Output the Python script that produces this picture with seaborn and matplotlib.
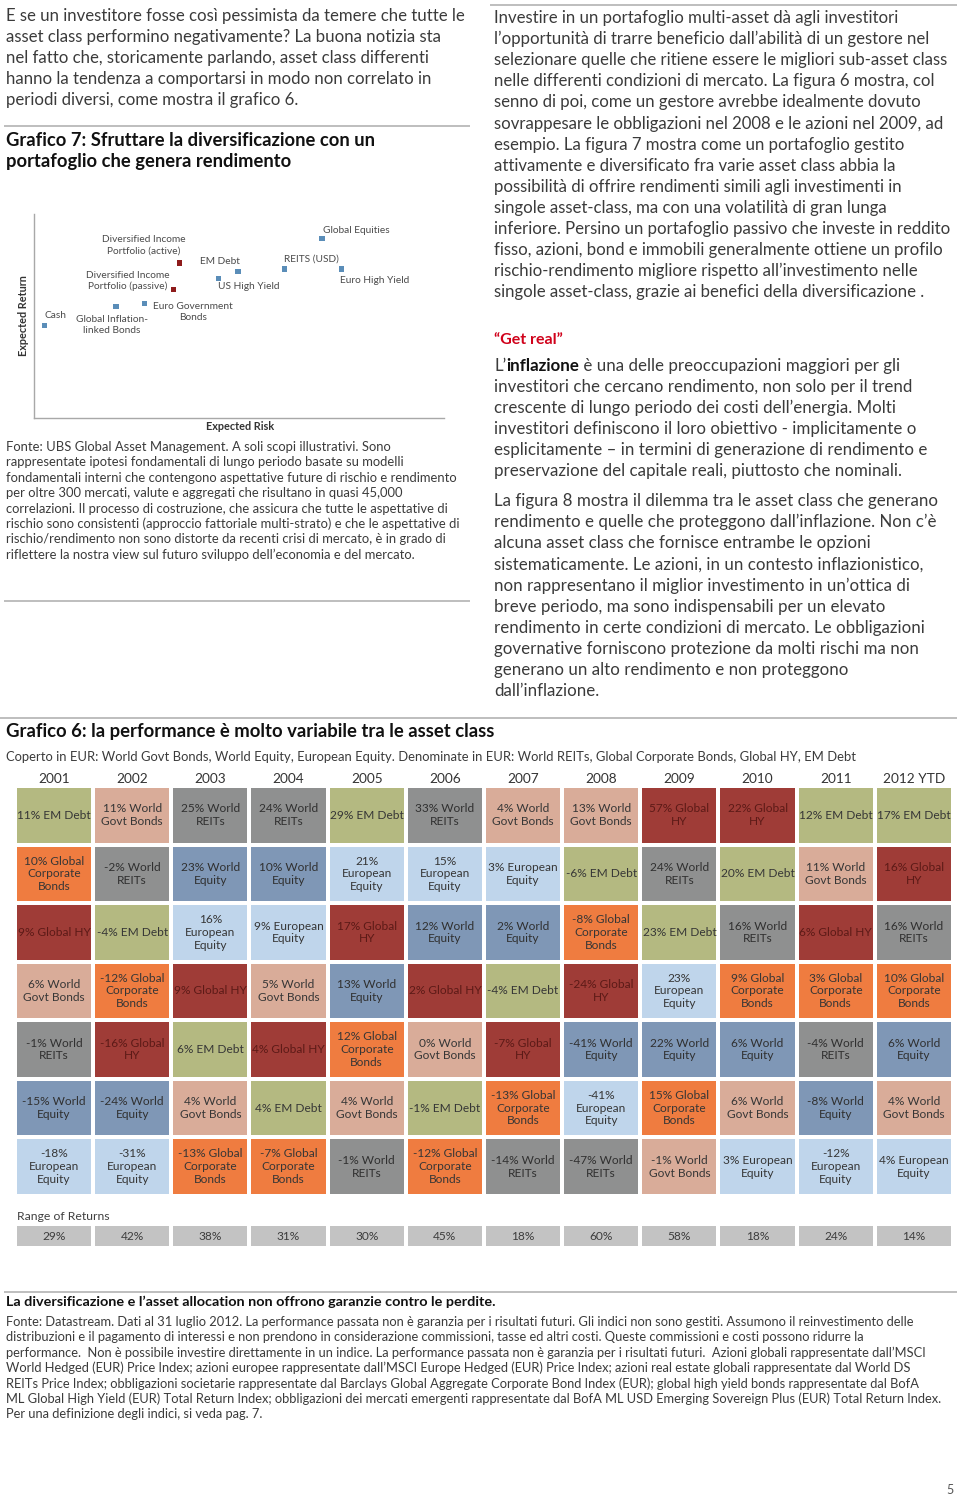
import matplotlib
matplotlib.use("Agg")
import numpy as np
import pandas as pd
import matplotlib.pyplot as plt
from matplotlib.colors import ListedColormap
from matplotlib import font_manager
import seaborn as sns

# ---------------- Grafico 7: expected risk / return (arbitrary units)
labels7 = ["Cash", "Global Inflation-\nlinked Bonds", "Euro Government\nBonds",
           "Diversified Income\nPortfolio (passive)", "Diversified Income\nPortfolio (active)",
           "US High Yield", "EM Debt", "REITS (USD)", "Global Equities", "Euro High Yield"]
risk7 = [0.5, 4.0, 5.4, 6.8, 7.1, 9.0, 9.95, 12.2, 14.05, 15.0]
return7 = [4.55, 5.45, 5.6, 6.3, 7.6, 6.85, 7.2, 7.3, 8.8, 7.3]
kind7 = ["asset", "asset", "asset", "portfolio", "portfolio",
         "asset", "asset", "asset", "asset", "asset"]

# ---------------- Grafico 6: ranked yearly returns (best at the top)
years = ["2001", "2002", "2003", "2004", "2005", "2006", "2007", "2008", "2009", "2010", "2011", "2012 YTD"]
ranked_returns = [
    [11, 10, 9, 6, -1, -15, -18],
    [11, -2, -4, -12, -16, -24, -31],
    [25, 23, 16, 9, 6, 4, -13],
    [24, 10, 9, 5, 4, 4, -7],
    [29, 21, 17, 13, 12, 4, -1],
    [33, 15, 12, 2, 0, -1, -12],
    [4, 3, 2, -4, -7, -13, -14],
    [13, -6, -8, -24, -41, -41, -47],
    [57, 24, 23, 23, 22, 15, -1],
    [22, 20, 16, 9, 6, 6, 3],
    [12, 11, 6, 3, -4, -8, -12],
    [17, 16, 16, 10, 6, 4, 4],
]
ranked_assets = [
    ["EM Debt", "Global Corporate Bonds", "Global HY", "World Govt Bonds", "World REITs", "World Equity", "European Equity"],
    ["World Govt Bonds", "World REITs", "EM Debt", "Global Corporate Bonds", "Global HY", "World Equity", "European Equity"],
    ["World REITs", "World Equity", "European Equity", "Global HY", "EM Debt", "World Govt Bonds", "Global Corporate Bonds"],
    ["World REITs", "World Equity", "European Equity", "World Govt Bonds", "Global HY", "EM Debt", "Global Corporate Bonds"],
    ["EM Debt", "European Equity", "Global HY", "World Equity", "Global Corporate Bonds", "World Govt Bonds", "World REITs"],
    ["World REITs", "European Equity", "World Equity", "Global HY", "World Govt Bonds", "EM Debt", "Global Corporate Bonds"],
    ["World Govt Bonds", "European Equity", "World Equity", "EM Debt", "Global HY", "Global Corporate Bonds", "World REITs"],
    ["World Govt Bonds", "EM Debt", "Global Corporate Bonds", "Global HY", "World Equity", "European Equity", "World REITs"],
    ["Global HY", "World REITs", "EM Debt", "European Equity", "World Equity", "Global Corporate Bonds", "World Govt Bonds"],
    ["Global HY", "EM Debt", "World REITs", "Global Corporate Bonds", "World Equity", "World Govt Bonds", "European Equity"],
    ["EM Debt", "World Govt Bonds", "Global HY", "Global Corporate Bonds", "World REITs", "World Equity", "European Equity"],
    ["EM Debt", "Global HY", "World REITs", "Global Corporate Bonds", "World Equity", "World Govt Bonds", "European Equity"],
]
range_of_returns = [29, 42, 38, 31, 30, 45, 18, 60, 58, 18, 24, 14]

asset_names = ["EM Debt", "World Govt Bonds", "World REITs", "World Equity",
               "European Equity", "Global Corporate Bonds", "Global HY"]
asset_colors = ["#b4b981", "#d9ac99", "#8f9090", "#7f97b6", "#bfd5eb", "#ef7c40", "#9f3c37"]
asset_text = ["#363636", "#363636", "#303030", "#303030", "#363636", "#363636", "#5c1a17"]

# ---------------- page text
left_intro = [
    "E se un investitore fosse così pessimista da temere che tutte le",
    "asset class performino negativamente? La buona notizia sta",
    "nel fatto che, storicamente parlando, asset class differenti",
    "hanno la tendenza a comportarsi in modo non correlato in",
    "periodi diversi, come mostra il grafico 6.",
]
title7 = ["Grafico 7: Sfruttare la diversificazione con un", "portafoglio che genera rendimento"]
source7 = [
    "Fonte: UBS Global Asset Management. A soli scopi illustrativi. Sono",
    "rappresentate ipotesi fondamentali di lungo periodo basate su modelli",
    "fondamentali interni che contengono aspettative future di rischio e rendimento",
    "per oltre 300 mercati, valute e aggregati che risultano in quasi 45,000",
    "correlazioni. Il processo di costruzione, che assicura che tutte le aspettative di",
    "rischio sono consistenti (approccio fattoriale multi-strato) e che le aspettative di",
    "rischio/rendimento non sono distorte da recenti crisi di mercato, è in grado di",
    "riflettere la nostra view sul futuro sviluppo dell’economia e del mercato.",
]
right_intro = [
    "Investire in un portafoglio multi-asset dà agli investitori",
    "l’opportunità di trarre beneficio dall’abilità di un gestore nel",
    "selezionare quelle che ritiene essere le migliori sub-asset class",
    "nelle differenti condizioni di mercato. La figura 6 mostra, col",
    "senno di poi, come un gestore avrebbe idealmente dovuto",
    "sovrappesare le obbligazioni nel 2008 e le azioni nel 2009, ad",
    "esempio. La figura 7 mostra come un portafoglio gestito",
    "attivamente e diversificato fra varie asset class abbia la",
    "possibilità di offrire rendimenti simili agli investimenti in",
    "singole asset-class, ma con una volatilità di gran lunga",
    "inferiore. Persino un portafoglio passivo che investe in reddito",
    "fisso, azioni, bond e immobili generalmente ottiene un profilo",
    "rischio-rendimento migliore rispetto all’investimento nelle",
    "singole asset-class, grazie ai benefici della diversificazione .",
]
real_para1 = [
    "investitori che cercano rendimento, non solo per il trend",
    "crescente di lungo periodo dei costi dell’energia. Molti",
    "investitori definiscono il loro obiettivo - implicitamente o",
    "esplicitamente – in termini di generazione di rendimento e",
    "preservazione del capitale reali, piuttosto che nominali.",
]
real_para2 = [
    "La figura 8 mostra il dilemma tra le asset class che generano",
    "rendimento e quelle che proteggono dall’inflazione. Non c’è",
    "alcuna asset class che fornisce entrambe le opzioni",
    "sistematicamente. Le azioni, in un contesto inflazionistico,",
    "non rappresentano il miglior investimento in un’ottica di",
    "breve periodo, ma sono indispensabili per un elevato",
    "rendimento in certe condizioni di mercato. Le obbligazioni",
    "governative forniscono protezione da molti rischi ma non",
    "generano un alto rendimento e non proteggono",
    "dall’inflazione.",
]
source6 = [
    "Fonte: Datastream. Dati al 31 luglio 2012. La performance passata non è garanzia per i risultati futuri. Gli indici non sono gestiti. Assumono il reinvestimento delle",
    "distribuzioni e il pagamento di interessi e non prendono in considerazione commissioni, tasse ed altri costi. Queste commissioni e costi possono ridurre la",
    "performance.  Non è possibile investire direttamente in un indice. La performance passata non è garanzia per i risultati futuri.  Azioni globali rappresentate dall’MSCI",
    "World Hedged (EUR) Price Index; azioni europee rappresentate dall’MSCI Europe Hedged (EUR) Price Index; azioni real estate globali rappresentate dal World DS",
    "REITs Price Index; obbligazioni societarie rappresentate dal Barclays Global Aggregate Corporate Bond Index (EUR); global high yield bonds rappresentate dal BofA",
    "ML Global High Yield (EUR) Total Return Index; obbligazioni dei mercati emergenti rappresentate dal BofA ML USD Emerging Sovereign Plus (EUR) Total Return Index.",
    "Per una definizione degli indici, si veda pag. 7.",
]

sns.set_theme(style="white")
plt.rcParams["font.family"] = ["Lato", "DejaVu Sans"]
installed = {f.name for f in font_manager.fontManager.ttflist}
NARROW = "Liberation Sans Narrow" if "Liberation Sans Narrow" in installed else "Lato"
BODY = "#3b3b3b"

fig = plt.figure(figsize=(9.6, 14.99), dpi=100)
page = fig.add_axes([0, 0, 1, 1])
page.set_xlim(0, 960)
page.set_ylim(1499, 0)
page.axis("off")
renderer = fig.canvas.get_renderer()


def text_block(x, y0, step, lines, width, size=11, **kw):
    # draw lines, then rescale the font so the widest line matches the page
    arts = [page.text(x, y0 + i * step, ln, va="center", ha="left", fontsize=size, **kw)
            for i, ln in enumerate(lines)]
    widest = max(a.get_window_extent(renderer).width for a in arts)
    new_size = size * width / widest
    for a in arts:
        a.set_fontsize(new_size)
    return new_size


def rule(x0, x1, y):
    page.plot([x0, x1], [y, y], color="#b3b3b3", lw=1.2, solid_capstyle="butt")


# separators
rule(4, 470, 126)
rule(490, 957, 5)
rule(4, 470, 601)
rule(0, 957, 718)
rule(4, 957, 1292)

# left column
text_block(6, 16, 21, left_intro, 457, color=BODY)
text_block(6, 140, 21, title7, 366, color="#111111", fontweight="bold")
text_block(6, 447, 15.4, source7, 455, size=9, color=BODY)

# right column
text_block(494, 18, 21.1, right_intro, 455, color=BODY)
page.text(494, 340, "“Get real”", va="center", ha="left", fontsize=11.5,
          fontweight="bold", color="#d0021b")
fs = text_block(494, 387, 21, real_para1, 429, color=BODY)
t1 = page.text(494, 366, "L’", va="center", ha="left", fontsize=fs, color=BODY)
t2 = page.annotate("inflazione", xy=(1, 0), xycoords=t1, va="bottom", ha="left",
                   fontsize=fs, fontweight="bold", color="#111111")
page.annotate(" è una delle preoccupazioni maggiori per gli", xy=(1, 0), xycoords=t2,
              va="bottom", ha="left", fontsize=fs, color=BODY)
text_block(494, 501, 21.1, real_para2, 442, color=BODY)

# Grafico 6 headings and footnotes
text_block(6, 731, 0, ["Grafico 6: la performance è molto variabile tra le asset class"], 484,
           size=12, family=NARROW, fontweight="bold", color="#111111")
text_block(6, 757, 0, ["Coperto in EUR: World Govt Bonds, World Equity, European Equity. "
                       "Denominate in EUR: World REITs, Global Corporate Bonds, Global HY, EM Debt"],
           847, size=10, family=NARROW, color=BODY)
text_block(6, 1302, 0, ["La diversificazione e l’asset allocation non offrono garanzie contro le perdite."],
           490, size=10, family=NARROW, fontweight="bold", color="#111111")
text_block(6, 1322, 15.35, source6, 947, size=9, family=NARROW, color=BODY)
page.text(950, 1490, "5", va="center", ha="center", fontsize=9, color="#555555")

# ---------------- Grafico 7 scatter
ax7 = fig.add_axes([34 / 960, 1 - 418 / 1499, 410 / 960, 204 / 1499])
df7 = pd.DataFrame({"risk": risk7, "ret": return7, "kind": kind7, "label": labels7})
sns.scatterplot(data=df7, x="risk", y="ret", hue="kind",
                palette={"asset": "#5a8db8", "portfolio": "#8e1b1b"},
                marker="s", s=14, linewidth=0, legend=False, ax=ax7)
ax7.set_xlim(0, 20)
ax7.set_ylim(0, 10)
ax7.set_xticks([])
ax7.set_yticks([])
ax7.set_xlabel("")
ax7.set_ylabel("")
for side in ["top", "right"]:
    ax7.spines[side].set_visible(False)
for side in ["left", "bottom"]:
    ax7.spines[side].set_color("#a8a8a8")
    ax7.spines[side].set_linewidth(1)

# label placement (offset in pixels, alignment)
label_offsets = [(0, 10, "left"), (-4, -18, "center"), (8, -8, "left"), (-4, 8.5, "right"),
                 (-36, 17.5, "center"), (-1, -8, "left"), (-18, 10, "center"), (0, 10, "left"),
                 (1, 8, "left"), (-1, -11, "left")]
for (_, row), (dx, dy, ha) in zip(df7.iterrows(), label_offsets):
    ax7.annotate(row["label"], (row["risk"], row["ret"]), xytext=(dx, dy),
                 textcoords="offset pixels", ha=ha, va="center", multialignment="center",
                 fontsize=7.3, color="#4a4a4a", linespacing=1.3)
page.text(240, 426, "Expected Risk", ha="center", va="center", fontsize=7.8,
          fontweight="bold", color="#333333")
page.text(24, 316, "Expected Return", ha="center", va="center", rotation=90, fontsize=7.8,
          fontweight="bold", color="#333333")

# ---------------- Grafico 6 ranked table
def cell_label(pct, asset):
    p = f"{pct}%"
    short = len(p) <= 2
    if asset == "EM Debt":
        return f"{p} EM Debt"
    if asset == "World Govt Bonds":
        return f"{p} World\nGovt Bonds"
    if asset == "World REITs":
        return f"{p} World\nREITs"
    if asset == "World Equity":
        return f"{p} World\nEquity"
    if asset == "European Equity":
        return f"{p} European\nEquity" if short else f"{p}\nEuropean\nEquity"
    if asset == "Global Corporate Bonds":
        return f"{p} Global\nCorporate\nBonds"
    return f"{p} Global HY" if short else f"{p} Global\nHY"


codes = np.array([[asset_names.index(a) for a in col] for col in ranked_assets]).T
annot = np.array([[cell_label(r, a) for r, a in zip(rs, As)]
                  for rs, As in zip(ranked_returns, ranked_assets)], dtype=object).T

ax6 = fig.add_axes([15 / 960, 1 - 1196 / 1499, 938 / 960, 410 / 1499])
sns.heatmap(codes, cmap=ListedColormap(asset_colors), vmin=-0.5, vmax=len(asset_names) - 0.5,
            annot=annot, fmt="", cbar=False, linewidths=1.5, linecolor="white",
            xticklabels=years, yticklabels=False,
            annot_kws={"fontsize": 8.6, "linespacing": 1.2}, ax=ax6)
for t, c in zip(ax6.texts, codes.flat):
    t.set_color(asset_text[c])
ax6.xaxis.set_ticks_position("top")
ax6.tick_params(axis="x", length=0, pad=1, labelsize=9.8, labelcolor="#333333", rotation=0)

page.text(17, 1217, "Range of Returns", ha="left", va="center", fontsize=8.8, color="#404040")
ax_rng = fig.add_axes([15 / 960, 1 - 1248 / 1499, 938 / 960, 24 / 1499])
sns.heatmap(np.array([range_of_returns]), cmap=ListedColormap(["#c3c3c3"]),
            annot=np.array([[f"{v}%" for v in range_of_returns]]),
            fmt="", cbar=False, linewidths=1.5, linecolor="white", xticklabels=False, yticklabels=False,
            annot_kws={"fontsize": 8.6, "color": "#3c3c3c"}, ax=ax_rng)

fig.savefig("out.png", dpi=100)
